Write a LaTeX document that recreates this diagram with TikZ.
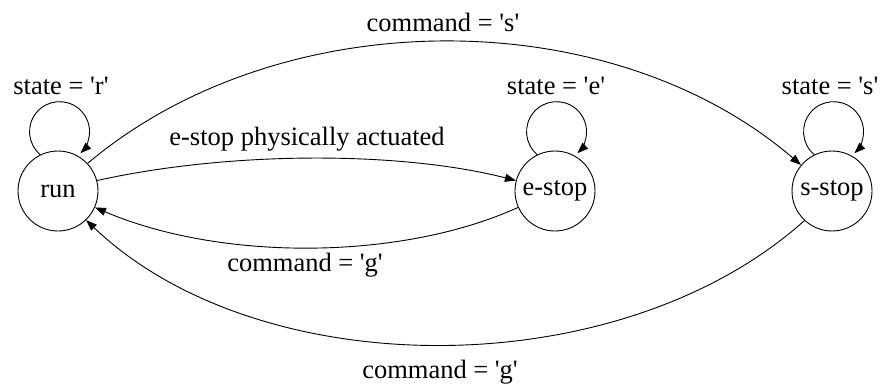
\documentclass[tikz,border=0pt]{standalone}
\usepackage{fontspec}
\setmainfont{Liberation Serif}
\usetikzlibrary{arrows.meta}
\newcommand{\q}{\textquotesingle}
\begin{document}
\begin{tikzpicture}[x=1pt,y=1pt,
  state/.style={circle,draw,line width=0.9pt,minimum size=80pt,inner sep=0pt,font=\fontsize{26.5}{31}\selectfont},
  lbl/.style={font=\fontsize{26.5}{31}\selectfont,inner sep=0pt},
  arr/.style={line width=0.9pt,-{Triangle[length=11pt,width=8pt]}}]
\useasboundingbox (0,0) rectangle (882,386);
\node[state] (run) at (58,195) {run};
\node[state] (estop) at (555,195) {e-stop};
\node[state] (sstop) at (832,195) {s-stop};
% self loops
\draw[arr] (run.116) arc[start angle=230,end angle=-46,radius=30];
\draw[arr] (estop.116) arc[start angle=230,end angle=-46,radius=30];
\draw[arr] (sstop.116) arc[start angle=230,end angle=-46,radius=30];
\node[lbl] (lr) at (61,300) {state = \q r\q};
\node[lbl] (le) at (556,300) {state = \q e\q};
\node[lbl] (ls) at (830,300) {state = \q s\q};
% transitions
\draw[arr] (run.43) .. controls (280,385) and (610,385) .. (sstop.140);
\node[lbl] (l1) at (443,364) {command = \q s\q};
\draw[arr] (run.15) .. controls (230,235) and (400,235) .. (estop.165);
\node[lbl] (l2) at (307,247) {e-stop physically actuated};
\draw[arr] (estop.204) .. controls (400,125) and (220,125) .. (run.336);
\node[lbl] (l3) at (305,121) {command = \q g\q};
\draw[arr] (sstop.227) .. controls (620,0) and (260,0) .. (run.314);
\node[lbl] (l4) at (440,14) {command = \q g\q};
\end{tikzpicture}
\end{document}
